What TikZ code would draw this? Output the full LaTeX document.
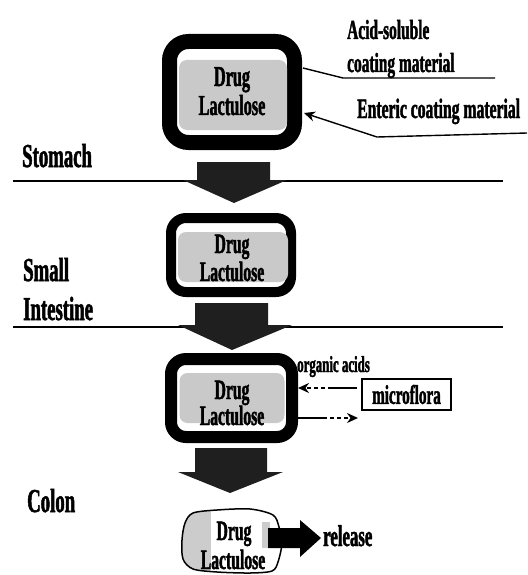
\documentclass[tikz,border=0pt]{standalone}
\usepackage{fontspec}
\newfontfamily\cf{Liberation Serif Bold}[FakeStretch=0.56, FakeBold=1.5]
\usetikzlibrary{arrows.meta}
\begin{document}
\begin{tikzpicture}[x=1pt,y=-1pt,
  lab/.style={font=\cf\fontsize{#1}{#1}\selectfont, inner sep=0pt, anchor=base west},
  ctr/.style={font=\cf\fontsize{#1}{#1}\selectfont, inner sep=0pt, anchor=base},
  capsule/.style={draw=black, fill=white, rounded corners=#1, inner sep=0pt},
  core/.style={fill=gray!42, rounded corners=8pt, inner sep=0pt},
  stage/.style={line width=2pt},
  thinline/.style={line width=1.4pt},
  blockarrow/.style={fill=black!88},
  tip/.style={-{Stealth[length=11pt,width=10pt]}},
  dashy/.style={dash pattern=on 4pt off 3pt},
]
\useasboundingbox (0,0) rectangle (527,575);

% stage dividers
\draw[stage] (13,181) -- (503,181);
\draw[stage] (13,327) -- (503,327);

% left labels
\node[lab=33.5] (stomach) at (22,167) {Stomach};
\node[lab=33.5] (small) at (23,281) {Small};
\node[lab=33.5] (intestine) at (23,320) {Intestine};
\node[lab=33.5] (colon) at (27,512) {Colon};

% capsule 1
\node[capsule=19pt, line width=15pt, minimum width=125pt, minimum height=101pt] (cap1) at (232,92) {};
\node[core, minimum width=108pt, minimum height=70pt] (core1) at (233,95) {};
\node[ctr=29] (drug1) at (232,86) {Drug};
\node[ctr=29] (lact1) at (232,115) {Lactulose};

% capsule 2
\node[capsule=15pt, line width=10pt, minimum width=120pt, minimum height=74pt] (cap2) at (231,255) {};
\node[core, minimum width=110pt, minimum height=50pt] (core2) at (233,257) {};
\node[ctr=28] (drug2) at (232,253) {Drug};
\node[ctr=28] (lact2) at (232,281) {Lactulose};

% capsule 3
\node[capsule=15pt, line width=12pt, minimum width=121pt, minimum height=78pt] (cap3) at (231.5,398) {};
\node[core, minimum width=105pt, minimum height=50pt] (core3) at (232,398) {};
\node[ctr=28] (drug3) at (232,399) {Drug};
\node[ctr=28] (lact3) at (232,425) {Lactulose};

% block arrows
\fill[blockarrow] (197,162) -- (270,162) -- (270,180) -- (287,180) -- (234,203) -- (183,180) -- (197,180) -- cycle;
\fill[blockarrow] (195,303) -- (268,303) -- (268,325) -- (292,325) -- (232,350) -- (178,325) -- (195,325) -- cycle;
\fill[blockarrow] (195,448) -- (267,448) -- (267,472) -- (283,472) -- (230,493) -- (178,472) -- (195,472) -- cycle;

% coating labels and connectors
\node[lab=27.5] (acid) at (347,39) {Acid-soluble};
\node[lab=27.5] (coat) at (347,72) {coating material};
\node[lab=28] (enteric) at (357,118) {Enteric coating material};
\coordinate (acidA) at (303,68);
\coordinate (acidB) at (343,78);
\coordinate (acidC) at (495,78);
\draw[thinline] (acidA) -- (acidB) -- (acidC);
\coordinate (entA) at (527,133);
\coordinate (entB) at (377,137);
\coordinate (entC) at (304,113);
\draw[thinline, tip] (entA) -- (entB) -- (entC);

% microflora
\node[draw, line width=1.4pt, minimum width=89pt, minimum height=31pt, inner sep=0pt,
      font=\cf\fontsize{27}{27}\selectfont] (mf) at (406.5,394.5) {microflora};
\node[lab=23] (oa) at (297,372) {organic acids};
\coordinate (c3a) at (298,388);
\coordinate (oaS) at (357,388);
\coordinate (oaM) at (332,388);
\draw[thinline] (oaS) -- (oaM);
\draw[thinline, dashy, tip] (oaM) -- (c3a);
\coordinate (c3b) at (298,418);
\coordinate (btM) at (323,418);
\coordinate (btE) at (358,418);
\draw[thinline] (c3b) -- (btM);
\draw[thinline, dashy, tip] (btM) -- (btE);

% released blob
\path[fill=white] plot[smooth cycle] coordinates {(185,523) (193,513) (217,510) (250,509) (273,515) (279,527) (282,543) (278,562) (272,571) (250,573) (217,572) (193,569) (183,559) (182,540)};
\begin{scope}
\clip plot[smooth cycle] coordinates {(185,523) (193,513) (217,510) (250,509) (273,515) (279,527) (282,543) (278,562) (272,571) (250,573) (217,572) (193,569) (183,559) (182,540)};
\fill[gray!40] (178,505) rectangle (211,580);
\fill[gray!40] (262,522) rectangle (270,548);
\end{scope}
\draw[line width=1.5pt] plot[smooth cycle] coordinates {(185,523) (193,513) (217,510) (250,509) (273,515) (279,527) (282,543) (278,562) (272,571) (250,573) (217,572) (193,569) (183,559) (182,540)};
\node[ctr=28] (drug4) at (234,540) {Drug};
\node[ctr=28] (lact4) at (233,569) {Lactulose};

% release arrow
\fill[black] (268,528) -- (300,528) -- (300,520) -- (321,538) -- (300,557) -- (300,548) -- (268,548) -- cycle;
\node[lab=30] (rel) at (323,546) {release};
\end{tikzpicture}
\end{document}
